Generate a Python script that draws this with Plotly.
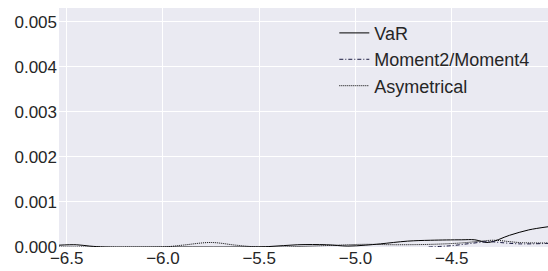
import plotly.graph_objects as go

var_x = [-6.54, -6.45, -6.38, -6.3, -6.0, -5.6, -5.45, -5.3, -5.15, -5.04, -4.95, -4.87, -4.73, -4.61, -4.45, -4.38, -4.31, -4.2, -4.1, -4.0]
var_y = [0.00004, 0.00005, 0.00002, 0.0, 0.0, 0.0, 0.00001, 0.00005, 0.00005, 0.00002, 0.00004, 0.00007, 0.00013, 0.00015, 0.00016, 0.00016, 0.0001, 0.00026, 0.00038, 0.00045]

mom_x = [-4.62, -4.5, -4.4, -4.31, -4.25, -4.15, -4.0]
mom_y = [0.0, 0.00003, 0.00008, 0.00012, 0.0001, 0.00007, 0.00008]

asy_x = [-6.54, -6.2, -6.0, -5.9, -5.75, -5.62, -5.5, -5.3, -5.1, -4.95, -4.8, -4.6, -4.45, -4.35, -4.28, -4.15, -4.0]
asy_y = [0.0, 0.0, 0.0, 0.00004, 0.0001, 0.00004, 0.0, 0.00001, 0.00004, 0.00006, 0.00005, 0.00006, 0.00009, 0.00013, 0.00015, 0.0001, 0.00009]

fig = go.Figure()
fig.add_trace(go.Scatter(x=var_x, y=var_y, mode="lines", name="VaR",
                         line=dict(color="black", width=1, shape="spline")))
fig.add_trace(go.Scatter(x=mom_x, y=mom_y, mode="lines", name="Moment2/Moment4",
                         line=dict(color="#1a1a40", width=1, dash="4px,2px,1px,2px", shape="spline")))
fig.add_trace(go.Scatter(x=asy_x, y=asy_y, mode="lines", name="Asymetrical",
                         line=dict(color="black", width=1, dash="1px,1px", shape="spline")))

fig.update_layout(
    width=548, height=271,
    margin=dict(l=59, r=0, t=8, b=24),
    paper_bgcolor="white", plot_bgcolor="#EAEAF2",
    font=dict(family="Liberation Sans, Arial, sans-serif", size=17, color="#262626"),
    showlegend=True,
    legend=dict(x=0.563, y=0.972, xanchor="left", yanchor="top",
                bgcolor="rgba(0,0,0,0)", font=dict(size=18), tracegroupgap=0),
    xaxis=dict(range=[-6.54, -4.0], tickvals=[-6.5, -6.0, -5.5, -5.0, -4.5], tickformat=".1f",
               showgrid=True, gridcolor="white", gridwidth=1, zeroline=False,
               showline=False, ticks="", ticklen=0, automargin=False, ticklabelstandoff=-1),
    yaxis=dict(range=[0.0, 0.00531], tickvals=[0, 0.001, 0.002, 0.003, 0.004, 0.005], tickformat=".3f",
               showgrid=True, gridcolor="white", gridwidth=1, zeroline=False,
               showline=False, ticks="", automargin=False, ticklabelstandoff=1),
)
fig.write_html("out.html", post_script="document.body.style.margin='0';",
               config={"displayModeBar": False})
